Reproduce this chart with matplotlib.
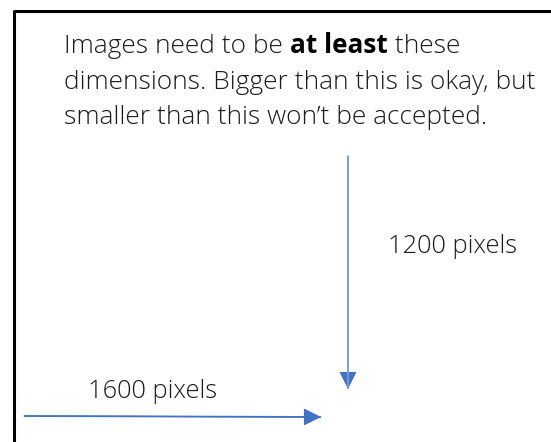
import matplotlib

matplotlib.use("Agg")

import matplotlib.pyplot as plt
from matplotlib.patches import FancyArrowPatch

plt.rcParams["font.family"] = ["Open Sans", "DejaVu Sans"]

W, H = 551, 442
BLUE = "#4472C4"

# instruction text: list of (segment, weight) per line
intro_lines = [
    [("Images need to be ", "light"), ("at least", "bold"), (" these", "light")],
    [("dimensions. Bigger than this is okay, but", "light")],
    [("smaller than this won\u2019t be accepted.", "light")],
]
intro_left = 64
intro_baselines = [53, 89, 124]
intro_width = 470  # width of the widest line in px

labels = ["1200 pixels", "1600 pixels"]
label_left = [388, 88]
label_baseline = [253, 398]
label_width = 129

# arrows: (start, end) in pixel coordinates
arrow_starts = [(348, 156), (24, 416)]
arrow_ends = [(348, 389), (321, 417)]
arrow_shaft_colors = ["#7A9BD6", BLUE]


def _fit_size(fig, renderer, text, weight, target_px, base=20.0):
    t = fig.text(0, 0, text, fontsize=base, fontweight=weight)
    w = t.get_window_extent(renderer).width
    t.remove()
    return base * target_px / w


def main() -> None:
    fig = plt.figure(figsize=(W / 100, H / 100), dpi=100)
    ax = fig.add_axes([0, 0, 1, 1])
    ax.set_xlim(0, W)
    ax.set_ylim(H, 0)
    ax.axis("off")
    renderer = fig.canvas.get_renderer()

    # border (top and left edges visible)
    ax.plot([13.5, W], [11, 11], color="black", lw=2.2, solid_capstyle="butt")
    ax.plot([14, 14], [10, H], color="black", lw=2.2, solid_capstyle="butt")

    intro_size = _fit_size(fig, renderer, intro_lines[1][0][0], "light", intro_width)
    for segments, baseline in zip(intro_lines, intro_baselines):
        x = intro_left
        for seg, weight in segments:
            t = ax.text(x, baseline, seg, fontsize=intro_size, fontweight=weight,
                        color="#1a1a1a" if weight == "light" else "black",
                        ha="left", va="baseline")
            x += t.get_window_extent(renderer).width

    label_size = _fit_size(fig, renderer, labels[0], "light", label_width)
    for text, left, baseline in zip(labels, label_left, label_baseline):
        ax.text(left, baseline, text, fontsize=label_size, fontweight="light",
                color="#1a1a1a", ha="left", va="baseline")

    for (x0, y0), (x1, y1), shaft in zip(arrow_starts, arrow_ends, arrow_shaft_colors):
        ax.plot([x0, x1], [y0, y1], color=shaft, lw=1.3, solid_capstyle="butt")
        arrow = FancyArrowPatch(
            (x0, y0), (x1, y1),
            arrowstyle="-|>,head_length=11,head_width=5.5",
            mutation_scale=1, color=BLUE, lw=0.8,
            shrinkA=0, shrinkB=0,
        )
        ax.add_patch(arrow)

    fig.savefig("out.png", dpi=100)
    plt.close(fig)


if __name__ == "__main__":
    main()
